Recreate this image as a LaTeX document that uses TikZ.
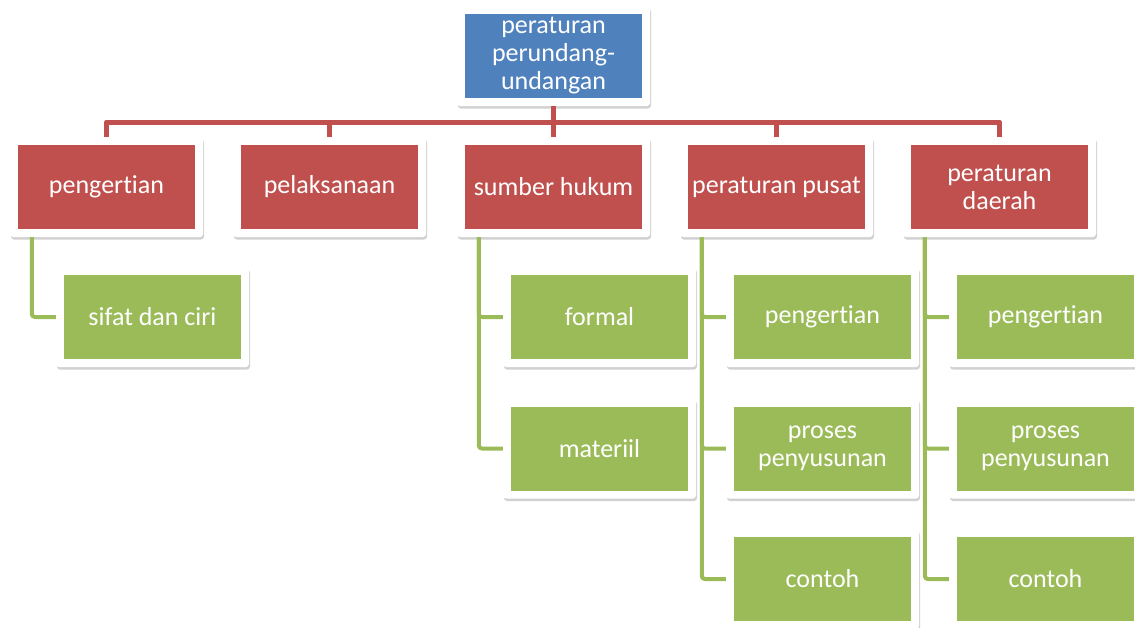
\documentclass[tikz,border=0pt]{standalone}
\usepackage{fontspec}
\setmainfont{Carlito}[Ligatures={NoCommon,NoRare,NoContextual}]
\usetikzlibrary{shadows}
\definecolor{cblue}{HTML}{4F81BD}
\definecolor{cred}{HTML}{C0504D}
\definecolor{cgreen}{HTML}{9BBB59}
\begin{document}
\begin{tikzpicture}[x=1pt,y=-1pt,
  frame/.style={fill=white, rounded corners=3pt, minimum width=193pt, minimum height=100pt, inner sep=0pt,
    drop shadow={shadow xshift=1pt, shadow yshift=-2.5pt, opacity=0.18, fill=black}},
  box/.style={minimum width=177pt, minimum height=84pt, inner sep=0pt, text=white, align=center,
    font=\fontsize{26}{28}\selectfont},
  redline/.style={draw=cred, line width=5pt, line join=round},
  greenline/.style={draw=cgreen, line width=4pt, line join=round, rounded corners=3pt}]
\useasboundingbox (0,0) rectangle (1135,627);
% top
\node[frame] (topf) at (553.5,56) {};
\node[box, fill=cblue] (top) at (553.5,56) {peraturan\\perundang-\\undangan};
% level 2
\node[frame] (b1f) at (106.5,187) {};
\node[box, fill=cred] (b1) at (106.5,187) {pengertian};
\node[frame] (b2f) at (329.5,187) {};
\node[box, fill=cred] (b2) at (329.5,187) {pelaksanaan};
\node[frame] (b3f) at (553.5,187) {};
\node[box, fill=cred] (b3) at (553.5,187) {sumber hukum};
\node[frame] (b4f) at (776.5,187) {};
\node[box, fill=cred] (b4) at (776.5,187) {peraturan pusat};
\node[frame] (b5f) at (999.5,187) {};
\node[box, fill=cred] (b5) at (999.5,187) {peraturan\\daerah};
% level 3
\node[frame] (c11f) at (152.5,317) {};
\node[box, fill=cgreen] (c11) at (152.5,317) {sifat dan ciri};
\node[frame] (c31f) at (599.5,317) {};
\node[box, fill=cgreen] (c31) at (599.5,317) {formal};
\node[frame] (c32f) at (599.5,448.5) {};
\node[box, fill=cgreen] (c32) at (599.5,448.5) {materiil};
\node[frame] (c41f) at (822.5,317) {};
\node[box, fill=cgreen] (c41) at (822.5,317) {pengertian};
\node[frame] (c42f) at (822.5,448.5) {};
\node[box, fill=cgreen] (c42) at (822.5,448.5) {proses\\penyusunan};
\node[frame] (c43f) at (822.5,579) {};
\node[box, fill=cgreen] (c43) at (822.5,579) {contoh};
\node[frame] (c51f) at (1045.5,317) {};
\node[box, fill=cgreen] (c51) at (1045.5,317) {pengertian};
\node[frame] (c52f) at (1045.5,448.5) {};
\node[box, fill=cgreen] (c52) at (1045.5,448.5) {proses\\penyusunan};
\node[frame] (c53f) at (1045.5,579) {};
\node[box, fill=cgreen] (c53) at (1045.5,579) {contoh};
% red connectors
\coordinate (bus) at (0,122);
\foreach \b in {b1f,b2f,b3f,b4f,b5f}
  \draw[redline] (topf.south) -- (topf.south |- bus) -| (\b.north);
% green connectors
\draw[greenline] ([xshift=22pt]b1f.south west) |- (c11f.west);
\foreach \c in {c31f,c32f}
  \draw[greenline] ([xshift=22pt]b3f.south west) |- (\c.west);
\foreach \c in {c41f,c42f,c43f}
  \draw[greenline] ([xshift=22pt]b4f.south west) |- (\c.west);
\foreach \c in {c51f,c52f,c53f}
  \draw[greenline] ([xshift=22pt]b5f.south west) |- (\c.west);
\end{tikzpicture}
\end{document}
